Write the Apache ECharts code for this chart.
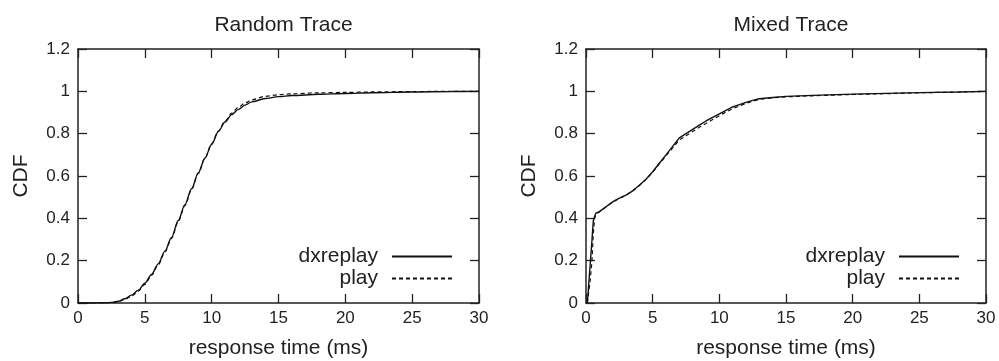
<!DOCTYPE html>
<html>
<head>
<meta charset="utf-8">
<script src="https://cdn.jsdelivr.net/npm/echarts@6/dist/echarts.min.js"></script>
<style>html,body{margin:0;padding:0;background:#fff}#c{width:999px;height:361px}</style>
</head>
<body>
<div id="c"></div>
<script>
var titles = ['Random Trace', 'Mixed Trace'];
var seriesNames = ['dxreplay', 'play'];
var xTicks = [0, 5, 10, 15, 20, 25, 30];
var yTicks = [0, 0.2, 0.4, 0.6, 0.8, 1, 1.2];

// Random trace
var randomX = [0, 1, 2, 2.5, 3, 3.5, 4, 4.5, 5, 5.5, 6, 6.5, 7, 7.5, 8, 8.5, 9, 9.5, 10, 10.5, 11, 11.5, 12, 12.5, 13, 14, 15, 16, 18, 20, 22, 25, 28, 30];
var randomDx = [0, 0, 0.001, 0.003, 0.008, 0.02, 0.037, 0.06, 0.093, 0.135, 0.185, 0.245, 0.31, 0.39, 0.465, 0.54, 0.615, 0.685, 0.75, 0.81, 0.855, 0.89, 0.915, 0.935, 0.95, 0.966, 0.975, 0.98, 0.986, 0.99, 0.993, 0.997, 0.999, 1.0];
var randomPlay = [0, 0, 0.001, 0.002, 0.006, 0.017, 0.032, 0.055, 0.088, 0.13, 0.18, 0.24, 0.305, 0.385, 0.46, 0.537, 0.612, 0.685, 0.752, 0.812, 0.86, 0.897, 0.925, 0.945, 0.96, 0.976, 0.984, 0.988, 0.993, 0.995, 0.997, 0.999, 1.0, 1.0];

// Mixed trace
var mixedX = [0.1, 0.3, 0.45, 0.55, 0.65, 0.75, 1, 1.5, 2, 2.5, 3, 3.5, 4, 4.5, 5, 5.5, 6, 6.5, 7, 7.5, 8, 8.5, 9, 9.5, 10, 10.5, 11, 11.5, 12, 12.5, 13, 14, 15, 17, 20, 25, 28, 30];
var mixedDx = [0, 0.17, 0.30, 0.39, 0.41, 0.425, 0.432, 0.455, 0.478, 0.495, 0.51, 0.53, 0.556, 0.585, 0.62, 0.66, 0.70, 0.74, 0.78, 0.80, 0.82, 0.84, 0.86, 0.877, 0.894, 0.91, 0.926, 0.937, 0.948, 0.957, 0.965, 0.971, 0.976, 0.981, 0.987, 0.994, 0.997, 1.0];
var mixedPlay = [0, 0.10, 0.20, 0.33, 0.40, 0.42, 0.43, 0.454, 0.477, 0.494, 0.509, 0.529, 0.555, 0.584, 0.618, 0.657, 0.695, 0.733, 0.77, 0.79, 0.81, 0.83, 0.848, 0.867, 0.885, 0.902, 0.918, 0.931, 0.943, 0.953, 0.962, 0.969, 0.974, 0.979, 0.985, 0.993, 0.997, 1.0];

function pairs(xs, ys) { return xs.map(function (x, i) { return [x, ys[i]]; }); }

var FONT = 'Liberation Sans, Arial, sans-serif';
var AX = '#222';
var grids = [
  { left: 78, top: 49, width: 401, height: 254, containLabel: false, outerBoundsMode: 'none' },
  { left: 586, top: 49, width: 400, height: 254, containLabel: false, outerBoundsMode: 'none' }
];

var xAxes = [], yAxes = [], series = [], titleArr = [], legends = [];
var legendRight = [546, 39];
grids.forEach(function (g, gi) {
  titleArr.push({
    text: titles[gi], left: g.left + g.width / 2, top: 10, textAlign: 'center',
    textStyle: { fontFamily: FONT, fontSize: 21, fontWeight: 'normal', color: '#222' }
  });
  var baseX = {
    type: 'value', gridIndex: gi, min: 0, max: 30, interval: 5,
    axisLine: { show: true, onZero: false, lineStyle: { color: AX, width: 1.5 } },
    axisTick: { show: true, inside: true, length: 9, lineStyle: { color: AX, width: 1.3 } },
    splitLine: { show: false }
  };
  var baseY = {
    type: 'value', gridIndex: gi, min: 0, max: 1.2, interval: 0.2,
    axisLine: { show: true, onZero: false, lineStyle: { color: AX, width: 1.5 } },
    axisTick: { show: true, inside: true, length: 9, lineStyle: { color: AX, width: 1.3 } },
    splitLine: { show: false }
  };
  xAxes.push(Object.assign({}, baseX, {
    position: 'bottom',
    name: 'response time (ms)', nameLocation: 'middle', nameGap: 35,
    nameTextStyle: { fontFamily: FONT, fontSize: 21, color: '#222' },
    axisLabel: { fontFamily: FONT, fontSize: 17, color: '#222', margin: 7 }
  }));
  xAxes.push(Object.assign({}, baseX, { position: 'top', axisLabel: { show: false } }));
  yAxes.push(Object.assign({}, baseY, {
    position: 'left',
    name: 'CDF', nameLocation: 'middle', nameGap: 46,
    nameTextStyle: { fontFamily: FONT, fontSize: 21, color: '#222' },
    axisLabel: {
      fontFamily: FONT, fontSize: 17, color: '#222', margin: 8,
      formatter: function (v) { return String(Math.round(v * 10) / 10); }
    }
  }));
  yAxes.push(Object.assign({}, baseY, { position: 'right', axisLabel: { show: false } }));

  var xs = gi === 0 ? randomX : mixedX;
  var dx = gi === 0 ? randomDx : mixedDx;
  var pl = gi === 0 ? randomPlay : mixedPlay;
  series.push({
    name: seriesNames[0], type: 'line', xAxisIndex: gi * 2, yAxisIndex: gi * 2,
    data: pairs(xs, dx), symbol: 'none', smooth: gi === 0 ? 0.3 : false, smoothMonotone: 'x',
    lineStyle: { color: '#111', width: 1.4, type: 'solid' }, itemStyle: { color: '#111' }, z: 3
  });
  series.push({
    name: seriesNames[1], type: 'line', xAxisIndex: gi * 2, yAxisIndex: gi * 2,
    data: pairs(xs, pl), symbol: 'none', smooth: gi === 0 ? 0.3 : false, smoothMonotone: 'x',
    lineStyle: { color: '#111', width: 1.2, type: [4, 3] }, itemStyle: { color: '#111' }, z: 2
  });
  seriesNames.forEach(function (n, ni) {
    legends.push({
      data: [n], orient: 'vertical', align: 'right', right: legendRight[gi], top: 246 + ni * 22,
      itemWidth: 60, itemHeight: 14, itemGap: 0, padding: 0, selectedMode: false,
      itemStyle: { color: 'transparent', borderWidth: 0, opacity: 0 },
      textStyle: { fontFamily: FONT, fontSize: 21, color: '#222', lineHeight: 21, padding: [0, 9, 0, 0] }
    });
  });
});

var chart = echarts.init(document.getElementById('c'), null, { renderer: 'canvas' });
chart.setOption({
  animation: false,
  backgroundColor: '#fff',
  title: titleArr,
  grid: grids,
  xAxis: xAxes,
  yAxis: yAxes,
  legend: legends,
  series: series
});
</script>
</body>
</html>
